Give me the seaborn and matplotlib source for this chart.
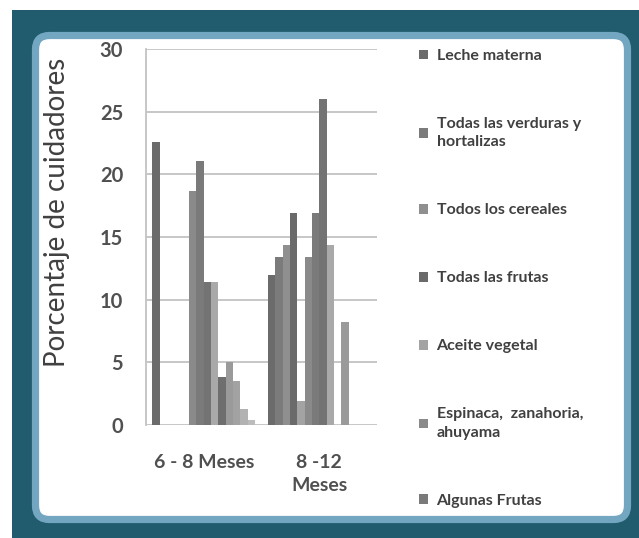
import numpy as np
import pandas as pd
import matplotlib
matplotlib.use("Agg")
import matplotlib.pyplot as plt
from matplotlib.patches import Rectangle, FancyBboxPatch, Patch
import seaborn as sns

# --- data ---
edades = ["6 - 8 Meses", "8 -12\nMeses"]
alimentos = [
    "Leche materna",
    "Todas las verduras y\nhortalizas",
    "Todos los cereales",
    "Todas las frutas",
    "Aceite vegetal",
    "Espinaca,  zanahoria,\nahuyama",
    "Algunas Frutas",
    "Serie 8", "Serie 9", "Serie 10", "Serie 11", "Serie 12", "Serie 13", "Serie 14",
]
pct_6_8 = [22.6, 0, 0, 0, 0, 18.7, 21.1, 11.4, 11.4, 3.8, 5.0, 3.5, 1.3, 0.4]
pct_8_12 = [12.0, 13.4, 14.4, 16.9, 1.9, 13.4, 16.9, 26.0, 14.4, 0, 8.2, 0, 0, 0]
colores = ["#6b6b6b", "#7b7b7b", "#8f8f8f", "#6a6a6a", "#a3a3a3", "#8a8a8a", "#7a7a7a",
           "#737373", "#a9a9a9", "#6e6e6e", "#9a9a9a", "#a2a2a2", "#b2b2b2", "#bcbcbc"]
n_legend = 7
yticks = [0, 5, 10, 15, 20, 25, 30]

df = pd.DataFrame({
    "edad": np.repeat(edades, len(alimentos)),
    "alimento": alimentos * 2,
    "pct": pct_6_8 + pct_8_12,
})

sns.set_theme(style="white")
plt.rcParams["font.family"] = ["Lato", "DejaVu Sans"]

W, H = 639, 538
fig = plt.figure(figsize=(W / 100, H / 100), dpi=100, facecolor="white")

# background frame (pixel coords, y up)
bg = fig.add_axes([0, 0, 1, 1])
bg.set_xlim(0, W)
bg.set_ylim(0, H)
bg.axis("off")
bg.add_patch(Rectangle((12, 0), W - 12, H - 10, facecolor="#215b6e", edgecolor="none"))
bg.add_patch(FancyBboxPatch((35.5, 18.5), 592, 484,
                            boxstyle="round,pad=0,rounding_size=14",
                            facecolor="white", edgecolor="#73a7c1", linewidth=5.2))

# main plot
ax = fig.add_axes([146 / W, 1 - 425 / H, 231 / W, 376 / H])
ax.patch.set_alpha(0)
sns.barplot(data=df, x="edad", y="pct", hue="alimento", hue_order=alimentos,
            palette=colores, width=0.89, errorbar=None, linewidth=0,
            legend=False, ax=ax)

ax.set_ylim(0, 30)
ax.set_xlim(-0.5, 1.5)
ax.set_yticks(yticks)
ax.yaxis.grid(True, color="#c3c3c3", linewidth=1.3)
ax.set_axisbelow(True)
for s in ["top", "right", "bottom"]:
    ax.spines[s].set_visible(False)
ax.spines["left"].set_color("#c3c3c3")
ax.spines["left"].set_linewidth(1.3)
ax.tick_params(axis="y", direction="out", length=4.5, width=1.2, color="#c3c3c3",
               pad=12, labelsize=14.5, labelcolor="#505050")
ax.tick_params(axis="x", length=0, pad=21, labelsize=14, labelcolor="#505050")
for lab in ax.get_yticklabels() + ax.get_xticklabels():
    lab.set_fontweight("bold")
for lab in ax.get_xticklabels():
    lab.set_linespacing(1.45)
ax.set_xlabel("")
ax.set_ylabel("")

fig.text(57 / W, 1 - 212 / H, "Porcentaje de cuidadores", rotation=90,
         ha="center", va="center", fontsize=20, color="#404040")

# legend (only the first entries are visible in the original)
handles = [Patch(facecolor=c, edgecolor="none") for c in colores[:n_legend]]
leg = fig.legend(handles, alimentos[:n_legend], loc="upper left",
                 bbox_to_anchor=(419 / W, 1 - 49 / H), frameon=False,
                 fontsize=11.5, labelspacing=3.38, handlelength=0.55,
                 handleheight=0.55, handletextpad=0.55, borderpad=0,
                 borderaxespad=0)
for t in leg.get_texts():
    t.set_color("#404040")
    t.set_fontweight("bold")
    t.set_linespacing(1.4)

fig.savefig("out.png", dpi=100)
